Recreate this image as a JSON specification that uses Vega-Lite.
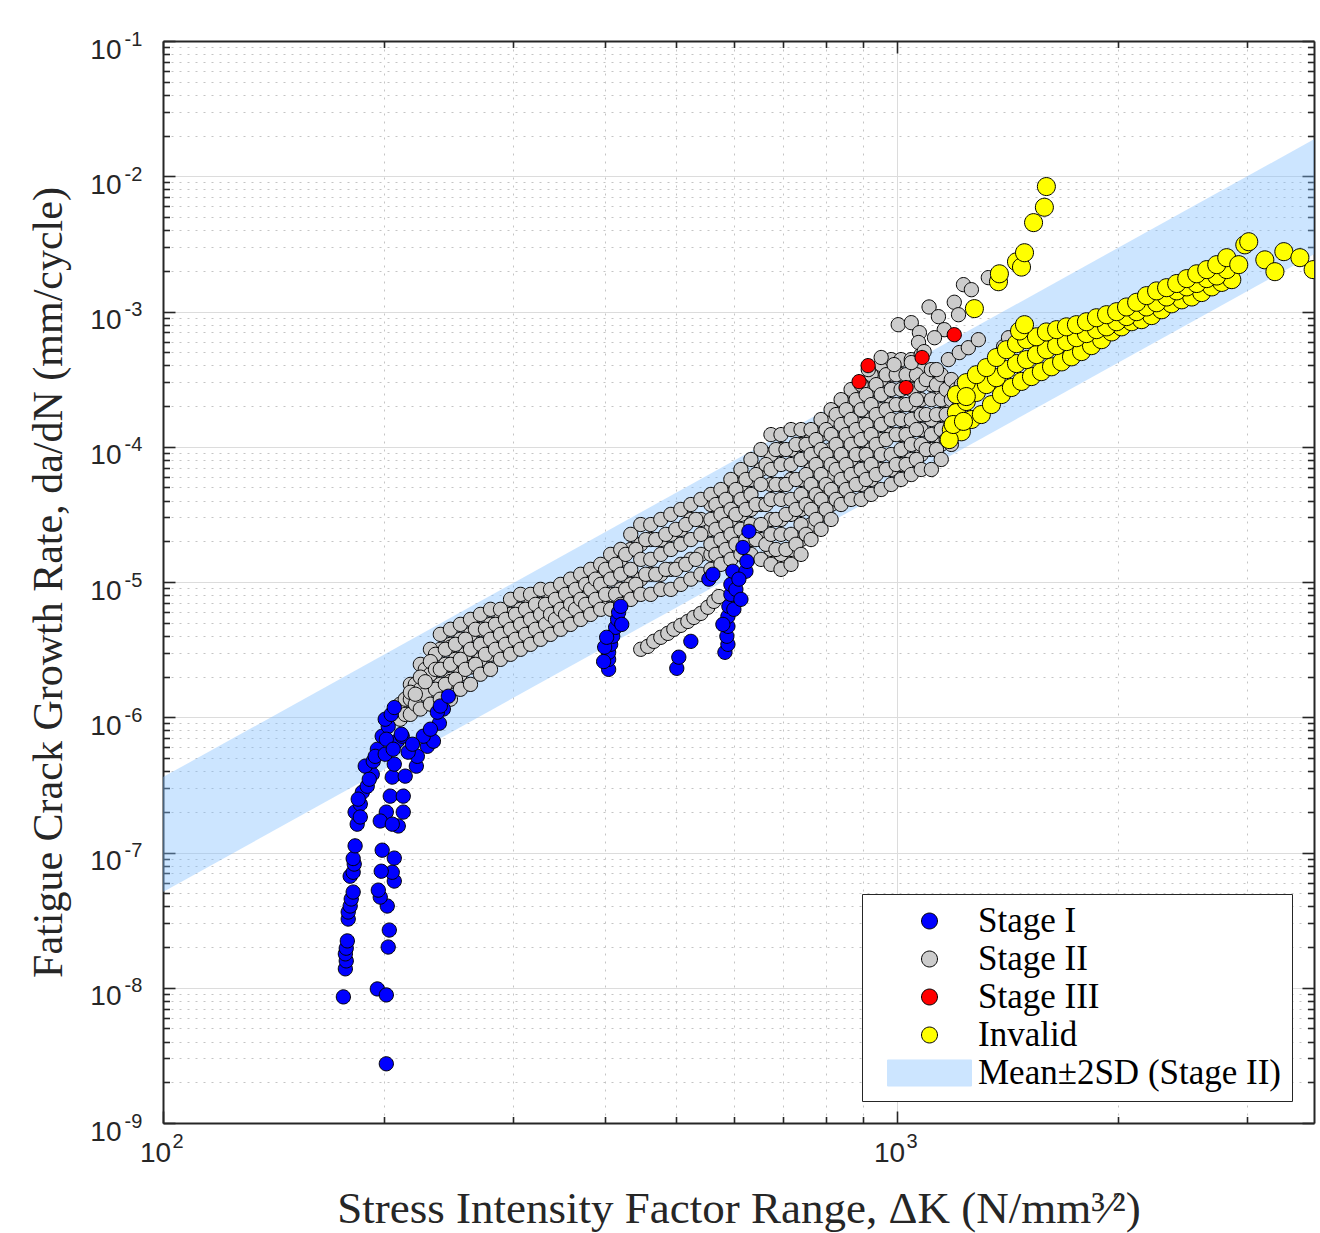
{
"$schema":"https://vega.github.io/schema/vega-lite/v6.json",
"width":1151,"height":1082,
"autosize":{"type":"none"},
"padding":{"left":163,"top":41,"right":6,"bottom":110},
"background":"#ffffff",
"config":{"view":{"stroke":null}},
"datasets":{
"band":[{"x":100,"lo":5.11e-8,"hi":3.61e-7},{"x":3700,"lo":2.65e-3,"hi":1.877e-2}],
"s2":[{"x":238.7,"y":3.18e-6},{"x":238.7,"y":1.75e-6},{"x":246.4,"y":3.46e-6},{"x":246.4,"y":1.91e-6},{"x":254.2,"y":3.77e-6},{"x":254.2,"y":2.08e-6},{"x":262.4,"y":4.10e-6},{"x":262.4,"y":2.46e-6},{"x":270.7,"y":4.47e-6},{"x":270.7,"y":2.68e-6},{"x":279.4,"y":4.86e-6},{"x":279.4,"y":2.92e-6},{"x":288.3,"y":5.29e-6},{"x":288.3,"y":3.18e-6},{"x":297.5,"y":5.76e-6},{"x":297.5,"y":3.77e-6},{"x":307.0,"y":6.28e-6},{"x":307.0,"y":3.77e-6},{"x":316.8,"y":6.83e-6},{"x":316.8,"y":4.10e-6},{"x":326.9,"y":6.83e-6},{"x":326.9,"y":4.47e-6},{"x":337.3,"y":7.44e-6},{"x":337.3,"y":4.86e-6},{"x":348.1,"y":7.44e-6},{"x":348.1,"y":5.29e-6},{"x":359.2,"y":8.10e-6},{"x":359.2,"y":5.76e-6},{"x":370.7,"y":9.60e-6},{"x":370.7,"y":6.28e-6},{"x":382.5,"y":1.05e-5},{"x":382.5,"y":6.83e-6},{"x":394.7,"y":1.14e-5},{"x":394.7,"y":7.44e-6},{"x":407.3,"y":1.24e-5},{"x":407.3,"y":8.10e-6},{"x":420.4,"y":1.47e-5},{"x":420.4,"y":8.82e-6},{"x":433.8,"y":1.74e-5},{"x":433.8,"y":9.60e-6},{"x":447.6,"y":1.90e-5},{"x":447.6,"y":1.05e-5},{"x":461.9,"y":2.06e-5},{"x":461.9,"y":1.14e-5},{"x":476.7,"y":2.06e-5},{"x":476.7,"y":1.14e-5},{"x":491.9,"y":2.25e-5},{"x":491.9,"y":1.24e-5},{"x":507.6,"y":2.45e-5},{"x":507.6,"y":1.35e-5},{"x":523.8,"y":2.90e-5},{"x":523.8,"y":1.47e-5},{"x":540.5,"y":2.90e-5},{"x":540.5,"y":1.60e-5},
{"x":557.8,"y":3.74e-5},{"x":557.8,"y":2.45e-5},{"x":557.8,"y":1.60e-5},{"x":575.6,"y":3.74e-5},{"x":575.6,"y":2.66e-5},{"x":575.6,"y":1.74e-5},{"x":593.9,"y":4.44e-5},{"x":593.9,"y":2.90e-5},{"x":593.9,"y":1.90e-5},{"x":612.9,"y":5.26e-5},{"x":612.9,"y":3.16e-5},{"x":612.9,"y":1.90e-5},{"x":632.5,"y":5.73e-5},{"x":632.5,"y":3.44e-5},{"x":632.5,"y":2.06e-5},{"x":652.7,"y":6.79e-5},{"x":652.7,"y":3.74e-5},{"x":652.7,"y":2.06e-5},
{"x":673.5,"y":8.76e-5},{"x":673.5,"y":5.26e-5},{"x":673.5,"y":2.90e-5},{"x":673.5,"y":1.74e-5},{"x":695.0,"y":9.54e-5},{"x":695.0,"y":5.26e-5},{"x":695.0,"y":2.90e-5},{"x":695.0,"y":1.60e-5},{"x":717.2,"y":9.54e-5},{"x":717.2,"y":5.73e-5},{"x":717.2,"y":3.16e-5},{"x":717.2,"y":1.74e-5},{"x":740.1,"y":1.04e-4},{"x":740.1,"y":5.73e-5},{"x":740.1,"y":3.44e-5},{"x":740.1,"y":2.06e-5},{"x":763.7,"y":1.13e-4},{"x":763.7,"y":6.79e-5},{"x":763.7,"y":4.08e-5},{"x":763.7,"y":2.66e-5},{"x":788.1,"y":1.23e-4},{"x":788.1,"y":8.05e-5},{"x":788.1,"y":4.83e-5},{"x":788.1,"y":3.16e-5},{"x":813.3,"y":1.59e-4},{"x":813.3,"y":9.54e-5},{"x":813.3,"y":6.23e-5},{"x":813.3,"y":3.74e-5},{"x":839.3,"y":1.88e-4},{"x":839.3,"y":1.13e-4},{"x":839.3,"y":7.39e-5},{"x":839.3,"y":4.44e-5},{"x":866.0,"y":2.05e-4},{"x":866.0,"y":1.23e-4},{"x":866.0,"y":8.05e-5},{"x":866.0,"y":5.26e-5},{"x":893.7,"y":2.23e-4},{"x":893.7,"y":1.46e-4},{"x":893.7,"y":8.76e-5},{"x":893.7,"y":5.26e-5},{"x":922.2,"y":2.65e-4},{"x":922.2,"y":1.59e-4},{"x":922.2,"y":9.54e-5},{"x":922.2,"y":5.73e-5},{"x":951.7,"y":3.14e-4},{"x":951.7,"y":1.88e-4},{"x":951.7,"y":1.13e-4},{"x":951.7,"y":6.79e-5},{"x":982.1,"y":3.41e-4},{"x":982.1,"y":2.05e-4},{"x":982.1,"y":1.23e-4},{"x":982.1,"y":6.79e-5},{"x":1013,"y":3.41e-4},{"x":1013,"y":2.05e-4},{"x":1013,"y":1.23e-4},{"x":1013,"y":7.39e-5},{"x":1046,"y":3.41e-4},{"x":1046,"y":2.05e-4},{"x":1046,"y":1.34e-4},{"x":1046,"y":8.05e-5},{"x":1079,"y":3.72e-4},{"x":1079,"y":2.23e-4},{"x":1079,"y":1.34e-4},{"x":1079,"y":8.76e-5},{"x":1114,"y":2.88e-4},{"x":1114,"y":1.59e-4},{"x":1114,"y":9.54e-5},{"x":1149,"y":2.65e-4},{"x":1149,"y":1.73e-4},{"x":1149,"y":1.04e-4},{"x":1186,"y":2.65e-4},{"x":1186,"y":1.88e-4},{"x":1186,"y":1.23e-4},
{"x":210.5,"y":1.25e-6},{"x":210.5,"y":9.67e-7},{"x":213.8,"y":1.36e-6},{"x":213.8,"y":1.05e-6},{"x":217.3,"y":1.75e-6},{"x":217.3,"y":1.36e-6},{"x":217.3,"y":1.05e-6},{"x":220.7,"y":1.75e-6},{"x":220.7,"y":1.25e-6},{"x":224.2,"y":2.46e-6},{"x":224.2,"y":1.61e-6},{"x":224.2,"y":1.15e-6},{"x":227.7,"y":2.26e-6},{"x":227.7,"y":1.48e-6},{"x":231.4,"y":3.18e-6},{"x":231.4,"y":2.08e-6},{"x":231.4,"y":1.25e-6},{"x":235.1,"y":2.92e-6},{"x":235.1,"y":1.61e-6},
{"x":217.3,"y":1.53e-6},{"x":220.7,"y":1.48e-6},{"x":224.2,"y":1.98e-6},{"x":227.7,"y":1.83e-6},{"x":231.4,"y":2.58e-6},{"x":235.1,"y":2.26e-6},{"x":242.5,"y":2.46e-6},{"x":246.4,"y":3.30e-6},{"x":246.4,"y":1.84e-6},{"x":250.3,"y":2.68e-6},{"x":258.2,"y":2.92e-6},{"x":262.4,"y":2.35e-6},
{"x":238.7,"y":4.10e-6},{"x":238.7,"y":2.26e-6},{"x":238.7,"y":1.36e-6},{"x":242.5,"y":3.18e-6},{"x":242.5,"y":1.75e-6},{"x":246.4,"y":4.47e-6},{"x":246.4,"y":2.46e-6},{"x":246.4,"y":1.36e-6},{"x":250.3,"y":3.46e-6},{"x":250.3,"y":1.91e-6},{"x":254.2,"y":4.86e-6},{"x":254.2,"y":2.68e-6},{"x":254.2,"y":1.61e-6},{"x":258.2,"y":3.77e-6},{"x":258.2,"y":2.26e-6},{"x":262.4,"y":5.29e-6},{"x":262.4,"y":3.18e-6},{"x":262.4,"y":1.75e-6},{"x":266.5,"y":4.47e-6},{"x":266.5,"y":2.46e-6},{"x":270.7,"y":5.76e-6},{"x":270.7,"y":3.46e-6},{"x":270.7,"y":2.08e-6},{"x":275.0,"y":4.47e-6},{"x":275.0,"y":2.92e-6},{"x":279.4,"y":6.28e-6},{"x":279.4,"y":3.77e-6},{"x":279.4,"y":2.26e-6},{"x":283.8,"y":4.86e-6},{"x":283.8,"y":3.18e-6},{"x":288.3,"y":6.28e-6},{"x":288.3,"y":4.10e-6},{"x":288.3,"y":2.68e-6},{"x":292.9,"y":5.29e-6},{"x":292.9,"y":3.46e-6},{"x":297.5,"y":7.44e-6},{"x":297.5,"y":4.47e-6},{"x":297.5,"y":2.92e-6},{"x":302.2,"y":5.76e-6},{"x":302.2,"y":3.77e-6},{"x":307.0,"y":8.10e-6},{"x":307.0,"y":4.86e-6},{"x":307.0,"y":3.18e-6},{"x":311.9,"y":6.28e-6},{"x":311.9,"y":4.10e-6},{"x":316.8,"y":8.10e-6},{"x":316.8,"y":5.29e-6},{"x":316.8,"y":3.46e-6},{"x":321.8,"y":6.83e-6},{"x":321.8,"y":4.47e-6},{"x":326.9,"y":8.82e-6},{"x":326.9,"y":5.76e-6},{"x":326.9,"y":3.77e-6},{"x":332.1,"y":6.83e-6},{"x":332.1,"y":4.86e-6},{"x":337.3,"y":8.82e-6},{"x":337.3,"y":5.76e-6},{"x":337.3,"y":4.10e-6},{"x":342.6,"y":7.44e-6},{"x":342.6,"y":5.29e-6},{"x":348.1,"y":9.60e-6},{"x":348.1,"y":6.28e-6},{"x":348.1,"y":4.47e-6},{"x":353.6,"y":8.10e-6},{"x":353.6,"y":5.76e-6},{"x":359.2,"y":1.05e-5},{"x":359.2,"y":6.83e-6},{"x":359.2,"y":4.86e-6},{"x":364.9,"y":8.82e-6},{"x":364.9,"y":6.28e-6},{"x":370.7,"y":1.14e-5},{"x":370.7,"y":7.44e-6},{"x":370.7,"y":5.29e-6},{"x":376.6,"y":9.60e-6},{"x":376.6,"y":6.83e-6},{"x":382.5,"y":1.24e-5},{"x":382.5,"y":8.82e-6},{"x":382.5,"y":5.76e-6},{"x":388.5,"y":1.05e-5},{"x":388.5,"y":7.44e-6},{"x":394.7,"y":1.35e-5},{"x":394.7,"y":9.60e-6},{"x":394.7,"y":6.28e-6},{"x":400.9,"y":1.24e-5},{"x":400.9,"y":8.10e-6},{"x":407.3,"y":1.60e-5},{"x":407.3,"y":1.05e-5},{"x":407.3,"y":6.28e-6},{"x":413.7,"y":1.35e-5},{"x":413.7,"y":8.10e-6},{"x":420.4,"y":1.74e-5},{"x":420.4,"y":1.14e-5},{"x":420.4,"y":6.83e-6},{"x":427.0,"y":1.60e-5},{"x":427.0,"y":8.82e-6},{"x":433.8,"y":2.25e-5},{"x":433.8,"y":1.24e-5},{"x":433.8,"y":7.44e-6},{"x":440.7,"y":1.74e-5},{"x":440.7,"y":9.60e-6},{"x":447.6,"y":2.66e-5},{"x":447.6,"y":1.47e-5},{"x":447.6,"y":8.10e-6},{"x":454.7,"y":2.06e-5},{"x":454.7,"y":1.14e-5},{"x":461.9,"y":2.66e-5},{"x":461.9,"y":1.47e-5},{"x":461.9,"y":8.10e-6},{"x":469.2,"y":2.06e-5},{"x":469.2,"y":1.14e-5},{"x":476.7,"y":2.90e-5},{"x":476.7,"y":1.60e-5},{"x":476.7,"y":8.82e-6},{"x":484.2,"y":2.25e-5},{"x":484.2,"y":1.24e-5},{"x":491.9,"y":3.16e-5},{"x":491.9,"y":1.74e-5},{"x":491.9,"y":8.82e-6},{"x":499.7,"y":2.45e-5},{"x":499.7,"y":1.24e-5},{"x":507.6,"y":3.44e-5},{"x":507.6,"y":1.90e-5},{"x":507.6,"y":9.60e-6},{"x":515.6,"y":2.66e-5},{"x":515.6,"y":1.35e-5},{"x":523.8,"y":3.74e-5},{"x":523.8,"y":2.06e-5},{"x":523.8,"y":1.05e-5},{"x":532.1,"y":2.90e-5},{"x":532.1,"y":1.47e-5},{"x":540.5,"y":4.08e-5},{"x":540.5,"y":2.25e-5},{"x":540.5,"y":1.14e-5},
{"x":447.6,"y":3.18e-6},{"x":457.5,"y":3.34e-6},{"x":466.3,"y":3.64e-6},{"x":476.7,"y":3.90e-6},{"x":487.3,"y":4.17e-6},{"x":496.6,"y":4.47e-6},{"x":507.6,"y":4.78e-6},{"x":518.9,"y":5.11e-6},{"x":528.8,"y":5.47e-6},{"x":540.5,"y":5.86e-6},{"x":552.5,"y":6.50e-6},{"x":563.1,"y":7.19e-6},{"x":572.0,"y":7.81e-6},
{"x":557.8,"y":4.44e-5},{"x":557.8,"y":2.90e-5},{"x":557.8,"y":1.90e-5},{"x":557.8,"y":1.24e-5},{"x":566.6,"y":3.74e-5},{"x":566.6,"y":2.45e-5},{"x":566.6,"y":1.60e-5},{"x":575.6,"y":4.83e-5},{"x":575.6,"y":3.16e-5},{"x":575.6,"y":2.06e-5},{"x":575.6,"y":1.35e-5},{"x":584.7,"y":4.08e-5},{"x":584.7,"y":2.66e-5},{"x":584.7,"y":1.74e-5},{"x":593.9,"y":5.73e-5},{"x":593.9,"y":3.44e-5},{"x":593.9,"y":2.25e-5},{"x":593.9,"y":1.47e-5},{"x":603.3,"y":4.83e-5},{"x":603.3,"y":3.16e-5},{"x":603.3,"y":1.90e-5},{"x":612.9,"y":6.79e-5},{"x":612.9,"y":4.08e-5},{"x":612.9,"y":2.45e-5},{"x":612.9,"y":1.60e-5},{"x":622.6,"y":5.73e-5},{"x":622.6,"y":3.44e-5},{"x":622.6,"y":2.06e-5},{"x":632.5,"y":8.05e-5},{"x":632.5,"y":4.44e-5},{"x":632.5,"y":2.66e-5},{"x":632.5,"y":1.60e-5},{"x":642.5,"y":6.23e-5},{"x":642.5,"y":3.74e-5},{"x":642.5,"y":2.06e-5},{"x":652.7,"y":9.54e-5},{"x":652.7,"y":5.26e-5},{"x":652.7,"y":2.66e-5},{"x":652.7,"y":1.47e-5},{"x":663.0,"y":7.39e-5},{"x":663.0,"y":3.74e-5},{"x":663.0,"y":1.90e-5},{"x":673.5,"y":1.23e-4},{"x":673.5,"y":6.79e-5},{"x":673.5,"y":4.08e-5},{"x":673.5,"y":2.25e-5},{"x":673.5,"y":1.35e-5},{"x":684.1,"y":9.54e-5},{"x":684.1,"y":5.26e-5},{"x":684.1,"y":2.90e-5},{"x":684.1,"y":1.74e-5},{"x":695.0,"y":1.23e-4},{"x":695.0,"y":7.39e-5},{"x":695.0,"y":4.08e-5},{"x":695.0,"y":2.25e-5},{"x":695.0,"y":1.24e-5},{"x":706.0,"y":9.54e-5},{"x":706.0,"y":5.26e-5},{"x":706.0,"y":3.16e-5},{"x":706.0,"y":1.74e-5},{"x":717.2,"y":1.34e-4},{"x":717.2,"y":7.39e-5},{"x":717.2,"y":4.08e-5},{"x":717.2,"y":2.25e-5},{"x":717.2,"y":1.35e-5},{"x":728.5,"y":1.04e-4},{"x":728.5,"y":5.73e-5},{"x":728.5,"y":3.44e-5},{"x":728.5,"y":1.90e-5},{"x":740.1,"y":1.34e-4},{"x":740.1,"y":8.05e-5},{"x":740.1,"y":4.44e-5},{"x":740.1,"y":2.66e-5},{"x":740.1,"y":1.60e-5},{"x":751.8,"y":1.04e-4},{"x":751.8,"y":6.23e-5},{"x":751.8,"y":3.74e-5},{"x":751.8,"y":2.25e-5},{"x":763.7,"y":1.34e-4},{"x":763.7,"y":8.76e-5},{"x":763.7,"y":5.26e-5},{"x":763.7,"y":3.44e-5},{"x":763.7,"y":2.06e-5},{"x":775.8,"y":1.13e-4},{"x":775.8,"y":7.39e-5},{"x":775.8,"y":4.44e-5},{"x":775.8,"y":2.90e-5},{"x":788.1,"y":1.59e-4},{"x":788.1,"y":9.54e-5},{"x":788.1,"y":6.23e-5},{"x":788.1,"y":4.08e-5},{"x":788.1,"y":2.45e-5},{"x":800.6,"y":1.34e-4},{"x":800.6,"y":8.76e-5},{"x":800.6,"y":5.26e-5},{"x":800.6,"y":3.44e-5},{"x":813.3,"y":1.88e-4},{"x":813.3,"y":1.23e-4},{"x":813.3,"y":7.39e-5},{"x":813.3,"y":4.83e-5},{"x":813.3,"y":2.90e-5},{"x":826.2,"y":1.73e-4},{"x":826.2,"y":1.04e-4},{"x":826.2,"y":6.79e-5},{"x":826.2,"y":4.08e-5},{"x":839.3,"y":2.23e-4},{"x":839.3,"y":1.46e-4},{"x":839.3,"y":8.76e-5},{"x":839.3,"y":5.73e-5},{"x":839.3,"y":3.74e-5},{"x":852.6,"y":1.88e-4},{"x":852.6,"y":1.23e-4},{"x":852.6,"y":7.39e-5},{"x":852.6,"y":4.83e-5},{"x":866.0,"y":2.65e-4},{"x":866.0,"y":1.59e-4},{"x":866.0,"y":1.04e-4},{"x":866.0,"y":6.23e-5},{"x":866.0,"y":4.08e-5},{"x":879.7,"y":2.23e-4},{"x":879.7,"y":1.34e-4},{"x":879.7,"y":8.76e-5},{"x":879.7,"y":5.26e-5},{"x":893.7,"y":2.88e-4},{"x":893.7,"y":1.88e-4},{"x":893.7,"y":1.13e-4},{"x":893.7,"y":6.79e-5},{"x":893.7,"y":4.08e-5},{"x":907.8,"y":2.43e-4},{"x":907.8,"y":1.46e-4},{"x":907.8,"y":8.76e-5},{"x":907.8,"y":5.73e-5},{"x":922.2,"y":3.41e-4},{"x":922.2,"y":2.05e-4},{"x":922.2,"y":1.23e-4},{"x":922.2,"y":7.39e-5},{"x":922.2,"y":4.44e-5},{"x":936.8,"y":2.88e-4},{"x":936.8,"y":1.73e-4},{"x":936.8,"y":1.04e-4},{"x":936.8,"y":6.23e-5},{"x":951.7,"y":4.05e-4},{"x":951.7,"y":2.43e-4},{"x":951.7,"y":1.46e-4},{"x":951.7,"y":8.76e-5},{"x":951.7,"y":4.83e-5},{"x":966.7,"y":3.41e-4},{"x":966.7,"y":1.88e-4},{"x":966.7,"y":1.13e-4},{"x":966.7,"y":6.79e-5},{"x":982.1,"y":4.41e-4},{"x":982.1,"y":2.65e-4},{"x":982.1,"y":1.59e-4},{"x":982.1,"y":8.76e-5},{"x":982.1,"y":5.26e-5},{"x":997.6,"y":3.41e-4},{"x":997.6,"y":2.05e-4},{"x":997.6,"y":1.23e-4},{"x":997.6,"y":7.39e-5},{"x":1013,"y":4.41e-4},{"x":1013,"y":2.65e-4},{"x":1013,"y":1.59e-4},{"x":1013,"y":9.54e-5},{"x":1013,"y":5.73e-5},{"x":1029,"y":3.41e-4},{"x":1029,"y":2.05e-4},{"x":1029,"y":1.23e-4},{"x":1029,"y":7.39e-5},{"x":1046,"y":4.41e-4},{"x":1046,"y":2.65e-4},{"x":1046,"y":1.59e-4},{"x":1046,"y":1.04e-4},{"x":1046,"y":6.23e-5},{"x":1063,"y":3.41e-4},{"x":1063,"y":2.23e-4},{"x":1063,"y":1.34e-4},{"x":1063,"y":8.05e-5},{"x":1079,"y":4.80e-4},{"x":1079,"y":2.88e-4},{"x":1079,"y":1.73e-4},{"x":1079,"y":1.04e-4},{"x":1079,"y":6.79e-5},{"x":1096,"y":3.14e-4},{"x":1096,"y":1.73e-4},{"x":1096,"y":9.54e-5},{"x":1114,"y":3.72e-4},{"x":1114,"y":2.23e-4},{"x":1114,"y":1.23e-4},{"x":1114,"y":6.79e-5},{"x":1132,"y":2.88e-4},{"x":1132,"y":1.73e-4},{"x":1132,"y":9.54e-5},{"x":1149,"y":3.41e-4},{"x":1149,"y":2.23e-4},{"x":1149,"y":1.34e-4},{"x":1149,"y":8.05e-5},{"x":1167,"y":2.65e-4},{"x":1167,"y":1.73e-4},{"x":1167,"y":1.13e-4},{"x":1186,"y":3.14e-4},{"x":1186,"y":2.23e-4},{"x":1186,"y":1.46e-4},{"x":1186,"y":1.04e-4},{"x":1205,"y":2.65e-4},{"x":1205,"y":1.88e-4},{"x":1205,"y":1.34e-4},{"x":1224,"y":2.88e-4},{"x":1224,"y":2.23e-4},{"x":1224,"y":1.73e-4},{"x":1224,"y":1.34e-4},
{"x":1132,"y":3.72e-4},{"x":1175,"y":4.41e-4},{"x":1216,"y":4.97e-4},{"x":1251,"y":5.40e-4},{"x":1291,"y":6.19e-4},{"x":1397,"y":5.49e-4},{"x":1419,"y":6.40e-4},
{"x":914,"y":3.72e-4},{"x":951.7,"y":4.57e-4},{"x":991,"y":4.05e-4},{"x":1004,"y":7.99e-4},{"x":1046,"y":8.27e-4},{"x":1073,"y":6.98e-4},{"x":1106,"y":1.08e-3},{"x":1139,"y":9.16e-4},{"x":1160,"y":7.34e-4},{"x":1125,"y":6.40e-4},{"x":1070,"y":5.90e-4},{"x":1089,"y":5.05e-4},{"x":1046,"y":4.19e-4},{"x":1197,"y":1.17e-3},{"x":1232,"y":1.58e-3},{"x":1263,"y":1.45e-3},{"x":1213,"y":9.47e-4},{"x":1332,"y":1.78e-3}],
"s1":[{"x":176.1,"y":8.56e-9},{"x":177.2,"y":1.38e-8},{"x":177.7,"y":1.58e-8},{"x":177.2,"y":1.78e-8},{"x":177.7,"y":1.96e-8},{"x":178.3,"y":2.22e-8},{"x":178.8,"y":3.22e-8},{"x":178.8,"y":3.63e-8},{"x":179.9,"y":4.02e-8},{"x":180.5,"y":4.53e-8},{"x":181.6,"y":5.10e-8},{"x":179.9,"y":6.68e-8},{"x":181.6,"y":7.14e-8},{"x":182.2,"y":8.21e-8},{"x":181.6,"y":9.02e-8},{"x":182.7,"y":1.12e-7},{"x":183.9,"y":1.62e-7},{"x":182.7,"y":1.99e-7},{"x":185.7,"y":2.28e-7},{"x":186.9,"y":2.79e-7},{"x":189.8,"y":3.09e-7},{"x":192.8,"y":3.79e-7},{"x":188.6,"y":4.35e-7},{"x":193.4,"y":4.74e-7},{"x":195.9,"y":5.80e-7},{"x":198.9,"y":7.24e-7},{"x":202.7,"y":8.57e-7},{"x":200.8,"y":9.67e-7},{"x":194.6,"y":5.14e-7},{"x":191.0,"y":3.48e-7},{"x":184.5,"y":2.48e-7},{"x":185.7,"y":1.83e-7},{"x":204.6,"y":1.05e-6},{"x":206.6,"y":1.18e-6},
{"x":201.5,"y":2.74e-9},{"x":195.9,"y":9.80e-9},{"x":201.5,"y":8.85e-9},{"x":202.7,"y":2.00e-8},{"x":203.4,"y":2.67e-8},{"x":202.1,"y":4.02e-8},{"x":197.7,"y":4.68e-8},{"x":196.5,"y":5.27e-8},{"x":206.6,"y":6.15e-8},{"x":205.3,"y":7.14e-8},{"x":198.3,"y":7.27e-8},{"x":206.6,"y":9.09e-8},{"x":198.9,"y":1.04e-7},{"x":209.2,"y":1.57e-7},{"x":201.5,"y":1.99e-7},{"x":197.7,"y":1.71e-7},{"x":205.3,"y":1.62e-7},{"x":204.0,"y":2.61e-7},{"x":212.5,"y":2.61e-7},{"x":212.5,"y":1.99e-7},{"x":205.3,"y":3.61e-7},{"x":206.6,"y":4.50e-7},{"x":200.8,"y":5.33e-7},{"x":208.5,"y":6.65e-7},{"x":211.8,"y":7.24e-7},{"x":201.5,"y":6.88e-7},{"x":205.9,"y":5.80e-7},
{"x":213.8,"y":3.67e-7},{"x":221.4,"y":4.35e-7},{"x":222.1,"y":5.14e-7},{"x":215.8,"y":5.52e-7},{"x":229.2,"y":6.10e-7},{"x":233.6,"y":6.65e-7},{"x":226.3,"y":7.24e-7},{"x":238.0,"y":9.03e-7},{"x":231.4,"y":8.16e-7},{"x":241.0,"y":1.15e-6},{"x":236.5,"y":1.09e-6},{"x":238.7,"y":1.21e-6},{"x":244.8,"y":1.43e-6},{"x":211.2,"y":7.49e-7},{"x":218.7,"y":6.32e-7},
{"x":404.7,"y":2.26e-6},{"x":404.7,"y":2.68e-6},{"x":404.7,"y":3.02e-6},{"x":407.3,"y":3.46e-6},{"x":409.9,"y":3.97e-6},{"x":413.7,"y":4.62e-6},{"x":416.3,"y":5.29e-6},{"x":417.6,"y":5.97e-6},{"x":420.4,"y":6.61e-6},{"x":399.7,"y":3.30e-6},{"x":402.2,"y":3.90e-6},{"x":421.7,"y":4.86e-6},{"x":398.4,"y":2.58e-6},
{"x":501.2,"y":2.30e-6},{"x":504.4,"y":2.78e-6},{"x":523.8,"y":3.64e-6},
{"x":582.9,"y":3.02e-6},{"x":588.4,"y":3.46e-6},{"x":586.5,"y":3.97e-6},{"x":588.4,"y":4.70e-6},{"x":588.4,"y":5.56e-6},{"x":590.2,"y":6.61e-6},{"x":593.9,"y":8.10e-6},{"x":593.9,"y":9.60e-6},{"x":597.6,"y":1.20e-5},{"x":622.6,"y":1.20e-5},{"x":624.5,"y":1.42e-5},{"x":599.5,"y":6.28e-6},{"x":603.3,"y":8.82e-6},{"x":609.0,"y":1.05e-5},{"x":616.8,"y":1.80e-5},{"x":628.5,"y":2.37e-5},{"x":554.3,"y":1.05e-5},{"x":561.3,"y":1.14e-5},{"x":612.9,"y":7.44e-6},{"x":579.2,"y":4.86e-6}],
"s3":[{"x":888,"y":3.03e-4},{"x":913.5,"y":3.98e-4},{"x":1029,"y":2.74e-4},{"x":1082,"y":4.57e-4},{"x":1197,"y":6.74e-4}],
"inv":[{"x":1186,"y":1.34e-4},{"x":1224,"y":1.29e-4},{"x":1263,"y":1.59e-4},{"x":1303,"y":1.73e-4},{"x":1345,"y":2.05e-4},{"x":1388,"y":2.43e-4},{"x":1432,"y":2.74e-4},{"x":1478,"y":3.04e-4},{"x":1525,"y":3.30e-4},{"x":1573,"y":3.59e-4},{"x":1624,"y":3.90e-4},{"x":1676,"y":4.24e-4},{"x":1729,"y":4.62e-4},{"x":1784,"y":5.05e-4},{"x":1841,"y":5.59e-4},{"x":1900,"y":6.19e-4},{"x":1961,"y":7.06e-4},{"x":2023,"y":7.70e-4},{"x":2088,"y":8.40e-4},{"x":2154,"y":8.70e-4},{"x":2223,"y":9.32e-4},{"x":2294,"y":1.03e-3},{"x":2367,"y":1.14e-3},{"x":2443,"y":1.22e-3},{"x":2521,"y":1.28e-3},{"x":2601,"y":1.38e-3},{"x":2685,"y":1.52e-3},{"x":2770,"y":1.64e-3},{"x":2859,"y":1.72e-3},
{"x":1205,"y":1.79e-4},{"x":1243,"y":2.16e-4},{"x":1283,"y":2.52e-4},{"x":1324,"y":2.88e-4},{"x":1366,"y":3.24e-4},{"x":1410,"y":3.72e-4},{"x":1455,"y":4.12e-4},{"x":1501,"y":4.41e-4},{"x":1549,"y":4.80e-4},{"x":1598,"y":5.22e-4},{"x":1650,"y":5.59e-4},{"x":1702,"y":5.99e-4},{"x":1756,"y":6.40e-4},{"x":1812,"y":6.86e-4},{"x":1870,"y":7.34e-4},{"x":1930,"y":7.70e-4},{"x":1992,"y":8.40e-4},{"x":2055,"y":9.16e-4},{"x":2121,"y":9.97e-4},{"x":2188,"y":1.08e-3},{"x":2258,"y":1.16e-3},{"x":2330,"y":1.28e-3},{"x":2405,"y":1.42e-3},{"x":2482,"y":1.52e-3},{"x":2561,"y":1.61e-3},{"x":2643,"y":1.75e-3},{"x":2727,"y":1.83e-3},{"x":2814,"y":2.04e-3},
{"x":1205,"y":2.43e-4},{"x":1243,"y":2.98e-4},{"x":1283,"y":3.41e-4},{"x":1324,"y":3.85e-4},{"x":1366,"y":4.57e-4},{"x":1410,"y":5.22e-4},{"x":1455,"y":5.78e-4},{"x":1501,"y":6.19e-4},{"x":1549,"y":6.50e-4},{"x":1598,"y":7.06e-4},{"x":1650,"y":7.34e-4},{"x":1702,"y":7.70e-4},{"x":1756,"y":7.99e-4},{"x":1812,"y":8.40e-4},{"x":1870,"y":8.99e-4},{"x":1930,"y":9.47e-4},{"x":1992,"y":9.97e-4},{"x":2055,"y":1.08e-3},{"x":2121,"y":1.17e-3},{"x":2188,"y":1.31e-3},{"x":2258,"y":1.42e-3},{"x":2330,"y":1.50e-3},{"x":2405,"y":1.61e-3},{"x":2482,"y":1.75e-3},{"x":2561,"y":1.90e-3},{"x":2643,"y":2.04e-3},{"x":2727,"y":2.22e-3},{"x":2814,"y":2.50e-3},
{"x":1469,"y":7.18e-4},{"x":1492,"y":7.99e-4},{"x":1178,"y":1.13e-4},{"x":1193,"y":1.46e-4},{"x":1232,"y":1.54e-4},{"x":1243,"y":2.35e-4},{"x":2978,"y":3.11e-3},{"x":3015,"y":3.28e-3},{"x":2922,"y":2.22e-3},{"x":3171,"y":2.41e-3},{"x":3273,"y":1.97e-3},{"x":3366,"y":2.77e-3},{"x":3540,"y":2.50e-3},{"x":3690,"y":2.04e-3},
{"x":1275,"y":1.05e-3},{"x":1375,"y":1.66e-3},{"x":1379,"y":1.90e-3},{"x":1455,"y":2.33e-3},{"x":1478,"y":2.13e-3},{"x":1492,"y":2.72e-3},{"x":1535,"y":4.54e-3},{"x":1588,"y":5.90e-3},{"x":1598,"y":8.39e-3}]
},
"resolve":{"axis":{"x":"independent","y":"independent"}},
"layer":[
{"data":{"name":"band"},
 "mark":{"type":"area","color":"#80bfff","opacity":0.4},
 "encoding":{
  "x":{"field":"x","type":"quantitative","scale":{"type":"log","domain":[100,3700],"nice":false},
   "axis":{"orient":"bottom","values":[100,1000],"labelExpr":"'10'","labelFont":"Liberation Sans","labelFontSize":28,"labelColor":"#262626","labelBaseline":"alphabetic","labelPadding":50,"labelOffset":-8,"labelFlush":false,"labelOverlap":false,"tickSize":-12,"tickColor":"#262626","tickWidth":1.6,"domainColor":"#262626","domainWidth":2,"grid":true,"gridColor":"#dcdcdc","gridWidth":1,
    "title":"Stress Intensity Factor Range, ΔK (N/mm³⁄²)","titleFont":"Liberation Serif","titleFontSize":45,"titleFontWeight":"normal","titleColor":"#262626","titleY":99,"titleBaseline":"alphabetic"}},
  "y":{"field":"lo","type":"quantitative","scale":{"type":"log","domain":[1e-9,0.1],"nice":false},
   "axis":{"orient":"left","values":[1e-9,1e-8,1e-7,1e-6,1e-5,1e-4,1e-3,1e-2,1e-1],"labelExpr":"'10'","labelFont":"Liberation Sans","labelFontSize":28,"labelColor":"#262626","labelBaseline":"alphabetic","labelOffset":17,"labelPadding":54,"labelFlush":false,"labelOverlap":false,"tickSize":-12,"tickColor":"#262626","tickWidth":1.6,"domainColor":"#262626","domainWidth":2,"grid":true,"gridColor":"#dcdcdc","gridWidth":1,
    "title":"Fatigue Crack Growth Rate, da/dN (mm/cycle)","titleFont":"Liberation Serif","titleFontSize":42,"titleFontWeight":"normal","titleColor":"#262626","titleX":-102,"titleY":541,"titleAngle":-90,"titleBaseline":"alphabetic","titleAlign":"center"}},
  "y2":{"field":"hi"}
 }},
{"data":{"name":"s2"},
 "mark":{"type":"point","filled":true,"opacity":1,"strokeWidth":1,"size":5600},
 "encoding":{
  "x":{"field":"x","type":"quantitative","scale":{"type":"log","domain":[100,3700],"nice":false},
   "axis":{"orient":"bottom","values":[200,300,400,500,600,700,800,900,2000,3000],"labels":false,"tickSize":-6.5,"tickColor":"#262626","tickWidth":1.6,"domain":false,"grid":true,"gridColor":"#c4c4c4","gridDash":[2,6],"gridWidth":1,"title":null}},
  "y":{"field":"y","type":"quantitative","scale":{"type":"log","domain":[1e-9,0.1],"nice":false},
   "axis":{"orient":"left","values":[2e-9,3e-9,4e-9,5e-9,6e-9,7e-9,8e-9,9e-9,2e-8,3e-8,4e-8,5e-8,6e-8,7e-8,8e-8,9e-8,2e-7,3e-7,4e-7,5e-7,6e-7,7e-7,8e-7,9e-7,2e-6,3e-6,4e-6,5e-6,6e-6,7e-6,8e-6,9e-6,2e-5,3e-5,4e-5,5e-5,6e-5,7e-5,8e-5,9e-5,2e-4,3e-4,4e-4,5e-4,6e-4,7e-4,8e-4,9e-4,2e-3,3e-3,4e-3,5e-3,6e-3,7e-3,8e-3,9e-3,2e-2,3e-2,4e-2,5e-2,6e-2,7e-2,8e-2,9e-2],"labels":false,"tickSize":-6.5,"tickColor":"#262626","tickWidth":1.6,"domain":false,"grid":true,"gridColor":"#c4c4c4","gridDash":[2,6],"gridWidth":1,"title":null}},
  "color":{"datum":"Stage II","type":"nominal","scale":{"domain":["Stage I","Stage II","Stage III","Invalid","Mean±2SD (Stage II)"],"range":["#0000ff","#cccccc","#ff0000","#ffff00","#cce5ff"]},
   "legend":{"title":null,"orient":"bottom-right","offset":22,"labelFont":"Liberation Serif","labelFontSize":35,"labelColor":"#000000","labelOffset":6,"labelLimit":600,"rowPadding":3,"padding":10,"clipHeight":34,"symbolSize":7056,"symbolOffset":15,"strokeColor":"#262626","fillColor":"#ffffff","symbolStrokeWidth":1,"symbolOpacity":1}},
  "shape":{"datum":"Stage II","type":"nominal","scale":{"domain":["Stage I","Stage II","Stage III","Invalid","Mean±2SD (Stage II)"],"range":["M0.19,0A0.19,0.19,0,1,1,-0.19,0A0.19,0.19,0,1,1,0.19,0Z","M0.19,0A0.19,0.19,0,1,1,-0.19,0A0.19,0.19,0,1,1,0.19,0Z","M0.19,0A0.19,0.19,0,1,1,-0.19,0A0.19,0.19,0,1,1,0.19,0Z","M0.19,0A0.19,0.19,0,1,1,-0.19,0A0.19,0.19,0,1,1,0.19,0Z","M-1,-0.31H1V0.31H-1Z"]}},
  "stroke":{"datum":"Stage II","type":"nominal","scale":{"domain":["Stage I","Stage II","Stage III","Invalid","Mean±2SD (Stage II)"],"range":["#000000","#000000","#000000","#000000","#cce5ff"]}}
 }},
{"data":{"name":"s1"},
 "mark":{"type":"point","filled":true,"opacity":1,"strokeWidth":1,"size":5600},
 "encoding":{
  "x":{"field":"x","type":"quantitative","scale":{"type":"log","domain":[100,3700],"nice":false},
   "axis":{"orient":"top","values":[100,1000],"labels":false,"tickSize":-12,"tickColor":"#262626","tickWidth":1.6,"domainColor":"#262626","domainWidth":2,"grid":false,"title":null}},
  "y":{"field":"y","type":"quantitative","scale":{"type":"log","domain":[1e-9,0.1],"nice":false},
   "axis":{"orient":"right","values":[1e-9,1e-8,1e-7,1e-6,1e-5,1e-4,1e-3,1e-2,1e-1],"labels":false,"tickSize":-12,"tickColor":"#262626","tickWidth":1.6,"domainColor":"#262626","domainWidth":2,"grid":false,"title":null}},
  "color":{"datum":"Stage I","type":"nominal"},
  "shape":{"datum":"Stage I","type":"nominal"},
  "stroke":{"datum":"Stage I","type":"nominal"}
 }},
{"data":{"name":"s3"},
 "mark":{"type":"point","filled":true,"opacity":1,"strokeWidth":1,"size":5600},
 "encoding":{
  "x":{"field":"x","type":"quantitative","scale":{"type":"log","domain":[100,3700],"nice":false},
   "axis":{"orient":"top","values":[200,300,400,500,600,700,800,900,2000,3000],"labels":false,"tickSize":-6.5,"tickColor":"#262626","tickWidth":1.6,"domain":false,"grid":false,"title":null}},
  "y":{"field":"y","type":"quantitative","scale":{"type":"log","domain":[1e-9,0.1],"nice":false},
   "axis":{"orient":"right","values":[2e-9,3e-9,4e-9,5e-9,6e-9,7e-9,8e-9,9e-9,2e-8,3e-8,4e-8,5e-8,6e-8,7e-8,8e-8,9e-8,2e-7,3e-7,4e-7,5e-7,6e-7,7e-7,8e-7,9e-7,2e-6,3e-6,4e-6,5e-6,6e-6,7e-6,8e-6,9e-6,2e-5,3e-5,4e-5,5e-5,6e-5,7e-5,8e-5,9e-5,2e-4,3e-4,4e-4,5e-4,6e-4,7e-4,8e-4,9e-4,2e-3,3e-3,4e-3,5e-3,6e-3,7e-3,8e-3,9e-3,2e-2,3e-2,4e-2,5e-2,6e-2,7e-2,8e-2,9e-2],"labels":false,"tickSize":-6.5,"tickColor":"#262626","tickWidth":1.6,"domain":false,"grid":false,"title":null}},
  "color":{"datum":"Stage III","type":"nominal"},
  "shape":{"datum":"Stage III","type":"nominal"},
  "stroke":{"datum":"Stage III","type":"nominal"}
 }},
{"data":{"name":"inv"},
 "mark":{"type":"point","filled":true,"opacity":1,"strokeWidth":1,"size":9000,"clip":true},
 "encoding":{
  "x":{"field":"x","type":"quantitative","scale":{"type":"log","domain":[100,3700],"nice":false},
   "axis":{"orient":"bottom","values":[100,1000],"labelExpr":"datum.value < 500 ? '2' : '3'","labelFont":"Liberation Sans","labelFontSize":20,"labelColor":"#262626","labelBaseline":"alphabetic","labelAlign":"left","labelOffset":9,"labelPadding":24,"labelFlush":false,"labelOverlap":false,"ticks":false,"tickSize":0,"domain":false,"grid":false,"title":null}},
  "y":{"field":"y","type":"quantitative","scale":{"type":"log","domain":[1e-9,0.1],"nice":false},
   "axis":{"orient":"left","values":[1e-9,1e-8,1e-7,1e-6,1e-5,1e-4,1e-3,1e-2,1e-1],"labelExpr":"'-' + (-round(log(datum.value)/LN10))","labelFont":"Liberation Sans","labelFontSize":20,"labelColor":"#262626","labelBaseline":"alphabetic","labelAlign":"left","labelOffset":4,"labelPadding":39,"labelFlush":false,"labelOverlap":false,"ticks":false,"tickSize":0,"domain":false,"grid":false,"title":null}},
  "color":{"datum":"Invalid","type":"nominal"},
  "shape":{"datum":"Invalid","type":"nominal"},
  "stroke":{"datum":"Invalid","type":"nominal"}
 }}
]
}
